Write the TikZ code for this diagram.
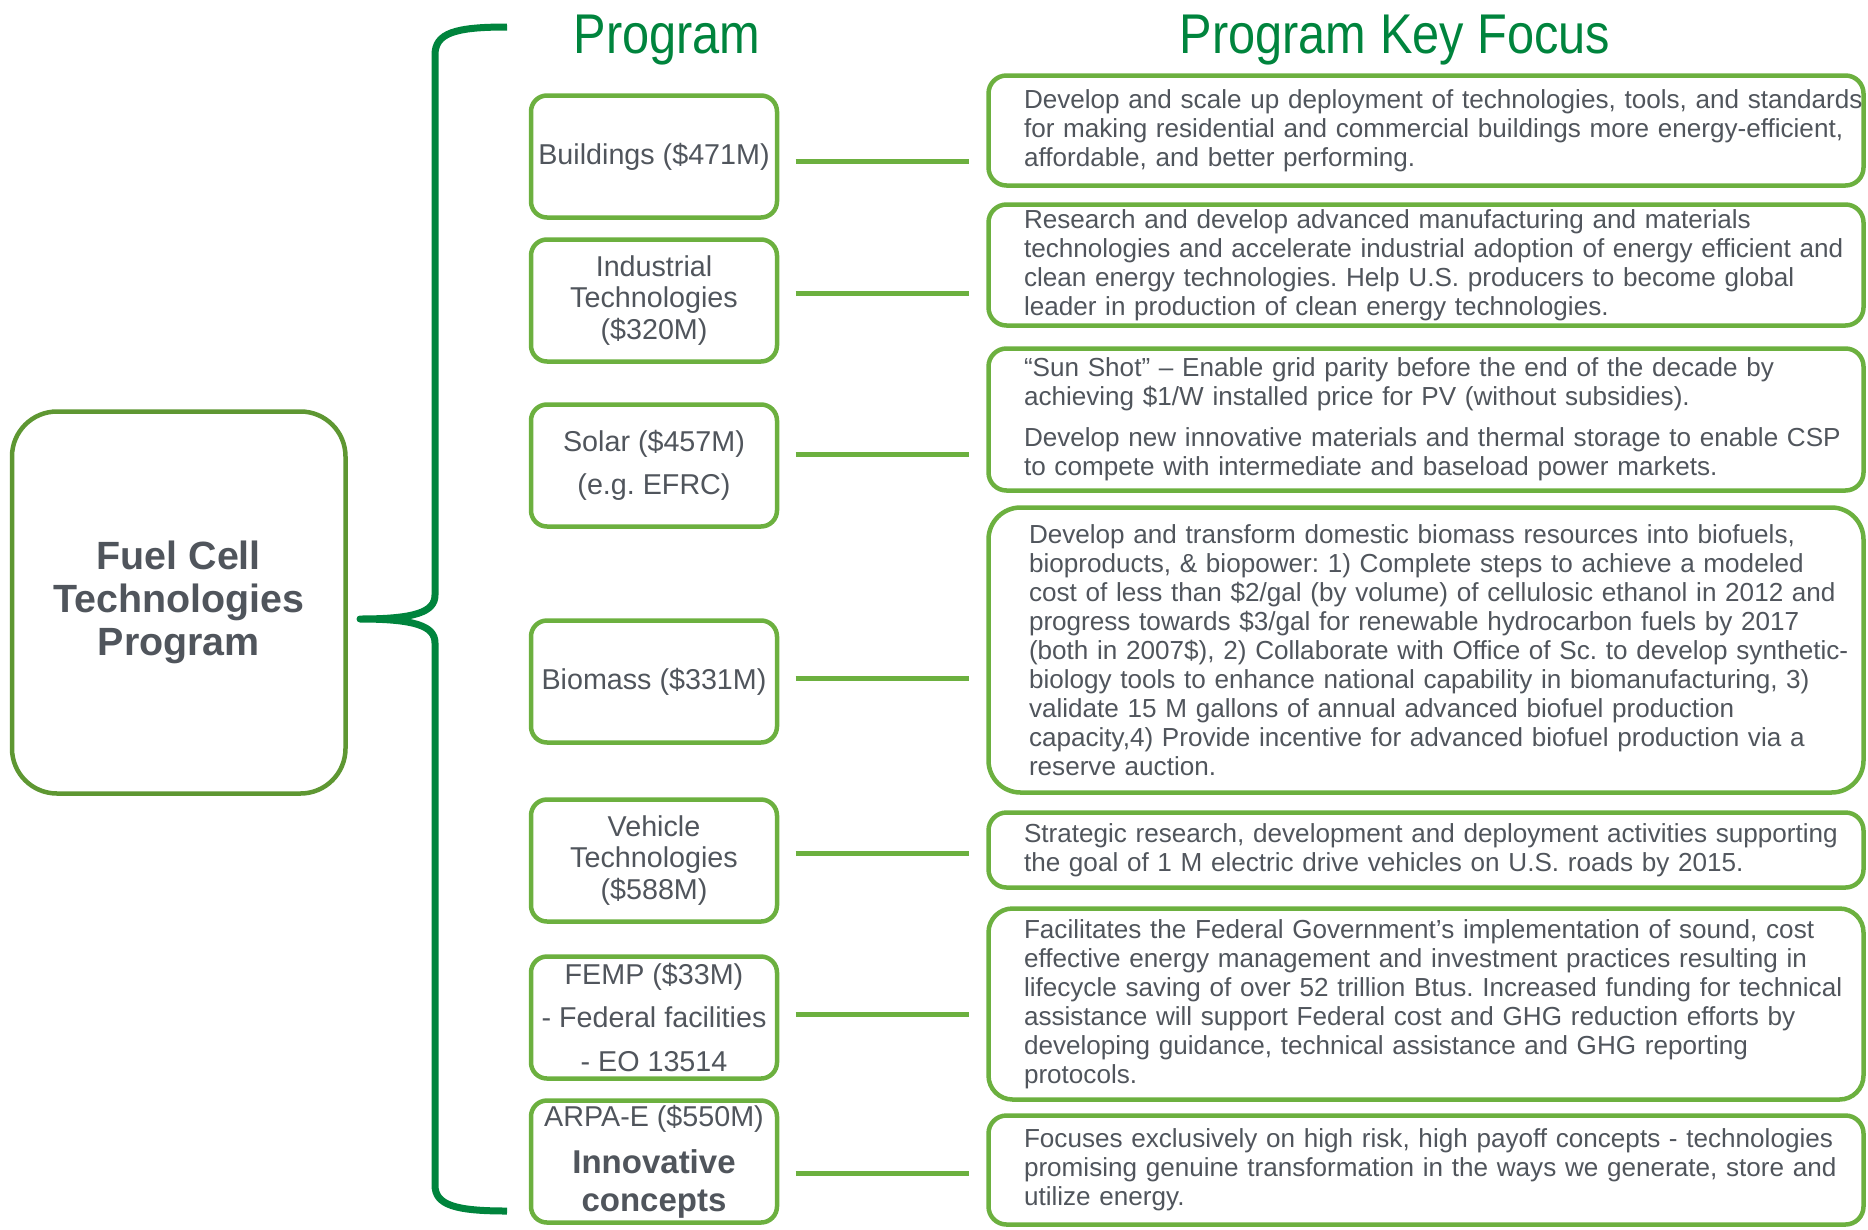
\documentclass[tikz,border=0pt]{standalone}
\usepackage{fontspec}
\setmainfont{Liberation Sans}
\newfontfamily\titlefont[FakeStretch=0.87]{Liberation Sans}
\definecolor{boxgreen}{HTML}{6CB03F}
\definecolor{maingreen}{HTML}{5E9732}
\definecolor{bracegreen}{HTML}{00843D}
\definecolor{textgray}{HTML}{50555C}
\newcommand\arpafont{\bfseries\fontsize{33}{38}\selectfont}
\frenchspacing
\hfuzz=200pt

\begin{document}
\begin{tikzpicture}[x=1pt,y=-1pt,
  main box/.style={draw=maingreen,line width=4.5pt,rounded corners=45pt,outer sep=0pt,
    minimum width=333.5pt,minimum height=382pt,align=center,text=textgray,
    font=\bfseries\fontsize{39.4}{43}\selectfont},
  prog/.style={draw=boxgreen,line width=4.5pt,rounded corners=16pt,outer sep=0pt,inner sep=0pt,
    minimum width=246pt,minimum height=122pt,align=center,text=textgray,
    font=\fontsize{28.7}{31.6}\selectfont},
  focus/.style={draw=boxgreen,line width=4.5pt,rounded corners=18pt,outer sep=0pt,
    text width=875pt,inner xsep=0pt,inner ysep=0pt,align=left,text=textgray,
    font=\fontsize{26.1}{29}\selectfont,
    execute at begin node={\leftskip=35.5pt\rightskip=-60pt plus 1fil\hyphenpenalty=10000}},
  link/.style={draw=boxgreen,line width=5pt,shorten <=18.5pt,shorten >=19.5pt},
  brace/.style={draw=bracegreen,line width=7pt,line join=round},
  title/.style={text=bracegreen,anchor=base,font=\titlefont\fontsize{56}{60}\selectfont}]

  \useasboundingbox (0,0) rectangle (1868,1229);

  \node[title] (progtitle) at (667,53) {Program};
  \node[title] (keytitle) at (1395,53) {Program Key Focus};

  \node[main box] (fct) at (178.75,602.5) {Fuel Cell\\Technologies\\Program};

  \node[prog] (p1) at (654,156.5) {Buildings (\$471M)};
  \node[prog] (p2) at (654,300.5) {Industrial\\Technologies\\(\$320M)};
  \node[prog] (p3) at (654,465.5) {Solar (\$457M)\\[12pt](e.g. EFRC)};
  \node[prog] (p4) at (654,681.5) {Biomass (\$331M)};
  \node[prog] (p5) at (654,860.5) {Vehicle\\Technologies\\(\$588M)};
  \node[prog] (p6) at (654,1017.5) {FEMP (\$33M)\\[12pt]- Federal facilities\\[12pt]- EO 13514};
  \node[prog] (p7) at (654,1161.5) {ARPA-E (\$550M)\\[16pt]\arpafont Innovative\\[6pt]\arpafont concepts};

  \node[focus,minimum height=110pt] (f1) at (1426,130.5) {Develop and scale up deployment of technologies, tools, and standards\\for making residential and commercial buildings more energy-efficient,\\affordable, and better performing.};
  \node[focus,minimum height=121pt] (f2) at (1426,265) {Research and develop advanced manufacturing and materials\\technologies and accelerate industrial adoption of energy efficient and\\clean energy technologies. Help U.S. producers to become global\\leader in production of clean energy technologies.};
  \node[focus,minimum height=142pt] (f3) at (1426,419.5) {“Sun Shot” – Enable grid parity before the end of the decade by\\achieving \$1/W installed price for PV (without subsidies).\\[12pt]Develop new innovative materials and thermal storage to enable CSP\\to compete with intermediate and baseload power markets.};
  \node[focus,minimum height=285pt,rounded corners=32pt,execute at begin node={\leftskip=40.5pt}] (f4) at (1426,650) {Develop and transform domestic biomass resources into biofuels,\\bioproducts, \& biopower: 1) Complete steps to achieve a modeled\\cost of less than \$2/gal (by volume) of cellulosic ethanol in 2012 and\\progress towards \$3/gal for renewable hydrocarbon fuels by 2017\\(both in 2007\$), 2) Collaborate with Office of Sc. to develop synthetic-\\biology tools to enhance national capability in biomanufacturing, 3)\\validate 15 M gallons of annual advanced biofuel production\\capacity,4) Provide incentive for advanced biofuel production via a\\reserve auction.};
  \node[focus,minimum height=75pt] (f5) at (1426,850) {Strategic research, development and deployment activities supporting\\the goal of 1 M electric drive vehicles on U.S. roads by 2015.};
  \node[focus,minimum height=191pt,rounded corners=24pt] (f6) at (1426,1004) {Facilitates the Federal Government’s implementation of sound, cost\\effective energy management and investment practices resulting in\\lifecycle saving of over 52 trillion Btus. Increased funding for technical\\assistance will support Federal cost and GHG reduction efforts by\\developing guidance, technical assistance and GHG reporting\\protocols.};
  \node[focus,minimum height=109pt] (f7) at (1426,1170) {Focuses exclusively on high risk, high payoff concepts - technologies\\promising genuine transformation in the ways we generate, store and\\utilize energy.};

  % brace from the main box to the programs
  \draw[brace] (507,27) .. controls (455,27) and (435,33) .. (435,55)
    -- (435,595) .. controls (435,612) and (415,619) .. (360,619)
    .. controls (415,619) and (435,626) .. (435,643)
    -- (435,1185) .. controls (435,1205) and (455,1211) .. (507,1211);

  \draw[link] ([yshift=-4.5pt]p1.east) -- ([yshift=-4.5pt]p1.east -| f1.west);
  \draw[link] ([yshift=7.5pt]p2.east) -- ([yshift=7.5pt]p2.east -| f2.west);
  \draw[link] ([yshift=11.5pt]p3.east) -- ([yshift=11.5pt]p3.east -| f3.west);
  \draw[link] ([yshift=3.5pt]p4.east) -- ([yshift=3.5pt]p4.east -| f4.west);
  \draw[link] ([yshift=7.5pt]p5.east) -- ([yshift=7.5pt]p5.east -| f5.west);
  \draw[link] ([yshift=3.5pt]p6.east) -- ([yshift=3.5pt]p6.east -| f6.west);
  \draw[link] ([yshift=-11.5pt]p7.east) -- ([yshift=-11.5pt]p7.east -| f7.west);
\end{tikzpicture}
\end{document}
